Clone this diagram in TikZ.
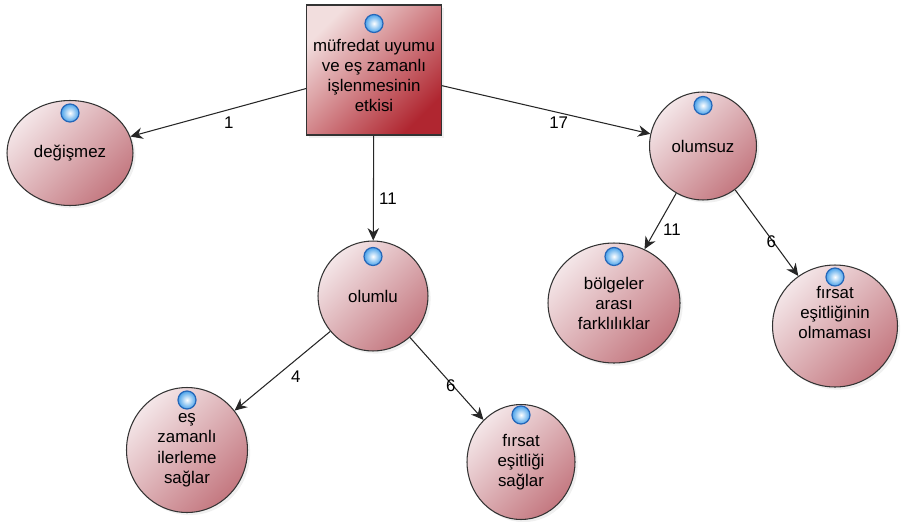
\documentclass[tikz,border=0pt]{standalone}
\usepackage{fontspec}
\setmainfont{Liberation Sans}
\usetikzlibrary{shapes.geometric,arrows.meta,shadows}
\definecolor{nodelight}{HTML}{F4E6E8}
\definecolor{nodedark}{HTML}{C47880}
\definecolor{boxlight}{HTML}{F2DEDE}
\definecolor{boxmid}{HTML}{DAAAAC}
\definecolor{boxdark}{HTML}{B02630}
\definecolor{ballblue}{HTML}{2466B8}
\definecolor{ballring}{HTML}{4AA2EA}
\tikzset{
  konu/.style={ellipse, draw=black!80, line width=0.6pt, top color=nodelight, bottom color=nodedark, shading angle=45,
    align=center, inner sep=0pt, font=\fontsize{9.6}{11.4}\selectfont,
    drop shadow={opacity=0.12, shadow xshift=1.5pt, shadow yshift=-1.5pt}},
  kutu/.style={rectangle, draw=black!80, line width=0.6pt, top color=boxlight, middle color=boxmid, bottom color=boxdark, shading angle=45,
    align=center, inner sep=0pt, font=\fontsize{9.6}{11.4}\selectfont,
    drop shadow={opacity=0.12, shadow xshift=1.5pt, shadow yshift=-1.5pt}},
  ok/.style={draw=black!85, line width=0.6pt, -{Stealth[length=7pt,width=6.5pt]}},
  etiket/.style={font=\fontsize{9.6}{11.4}\selectfont, inner sep=1pt},
  top/.style={draw=ballblue, line width=0.7pt, inner color=white, outer color=ballring}
}
\begin{document}
\begin{tikzpicture}[x=0.02cm,y=-0.02cm]
  \useasboundingbox (0,0) rectangle (903,521);
  \node[kutu, minimum width=2.7cm, minimum height=2.6cm] (mufredat) at (374,70) {\\[2pt]müfredat uyumu\\ve eş zamanlı\\işlenmesinin\\etkisi};
  \node[konu, minimum width=2.52cm, minimum height=2.1cm] (degismez) at (70,153) {değişmez};
  \node[konu, minimum width=2.14cm, minimum height=2.16cm] (olumsuz) at (703,146) {olumsuz};
  \node[konu, minimum width=2.2cm, minimum height=2.2cm] (olumlu) at (373,296) {olumlu};
  \node[konu, minimum width=2.64cm, minimum height=2.4cm] (bolgeler) at (614,303) {bölgeler\\arası\\farklılıklar};
  \node[konu, minimum width=2.5cm, minimum height=2.44cm] (firsatyok) at (835,326) {fırsat\\eşitliğinin\\olmaması\\[4pt]};
  \node[konu, minimum width=2.42cm, minimum height=2.5cm] (eszamanli) at (187,450) {\\[-6pt]eş\\zamanlı\\ilerleme\\sağlar};
  \node[konu, minimum width=2.16cm, minimum height=2.3cm] (firsat) at (521,462) {fırsat\\eşitliği\\sağlar};
  \foreach \n/\d in {mufredat/0.38cm, degismez/0.26cm, olumsuz/0.28cm, olumlu/0.32cm, bolgeler/0.28cm, firsatyok/0.25cm, eszamanli/0.26cm, firsat/0.22cm}
    \draw[top] ([yshift=-\d]\n.north) circle (0.18cm);
  \draw[ok] (mufredat) -- (degismez) node[etiket, pos=0.44, below=3pt] {1};
  \draw[ok] (mufredat) -- (olumsuz) node[etiket, pos=0.56, below=1pt] {17};
  \draw[ok] (mufredat) -- (olumlu) node[etiket, pos=0.6, right=2pt] {11};
  \draw[ok] (olumlu) -- (eszamanli) node[etiket, pos=0.45, below right=1pt] {4};
  \draw[ok] (olumlu) -- (firsat) node[etiket, pos=0.58, left=-3pt] {6};
  \draw[ok] (olumsuz) -- (bolgeler) node[etiket, pos=0.65, right=3pt] {11};
  \draw[ok] (olumsuz) -- (firsatyok) node[etiket, pos=0.6, left=-3pt] {6};
\end{tikzpicture}
\end{document}
